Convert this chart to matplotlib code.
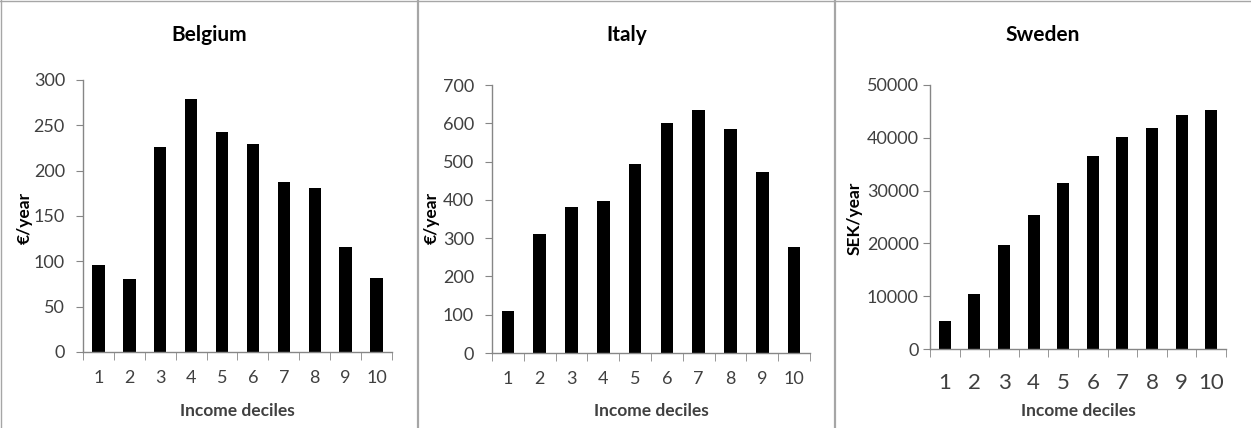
import numpy as np
import matplotlib
matplotlib.use("Agg")
import matplotlib.pyplot as plt
from matplotlib.lines import Line2D
from matplotlib.ticker import FixedLocator

# Data
deciles = ["1", "2", "3", "4", "5", "6", "7", "8", "9", "10"]
belgium = [96, 80, 226, 279, 243, 229, 188, 181, 116, 82]
italy = [110, 312, 381, 396, 493, 602, 634, 586, 472, 278]
sweden = [5300, 10400, 19700, 25300, 31400, 36600, 40200, 41900, 44300, 45200]

plt.rcParams['font.family'] = ['Lato', 'DejaVu Sans']

W, H = 1251, 428
fig = plt.figure(figsize=(W / 100, H / 100), dpi=100)

axis_grey = "#868686"
text_grey = "#404040"

# (values, title, ylabel, ymax, ystep, axes box in px [left, right, top, bottom], panel span px, xtick size, xpad, ypad, ylabel x)
panels = [
    (belgium, "Belgium", "€/year", 300, 50, [83, 392, 80, 352], (0, 418), 13, 13, 8, 25),
    (italy, "Italy", "€/year", 700, 100, [492, 810, 85, 353], (418, 835), 13, 13, 8, 432),
    (sweden, "Sweden", "SEK/year", 50000, 10000, [930, 1226, 85, 349], (835, 1251), 16, 17, 3, 855),
]

for vals, title, ylab, ymax, ystep, box, span, xfs, xpad, ypad, ylab_x in panels:
    l, r, t, b = box
    ax = fig.add_axes([l / W, 1 - b / H, (r - l) / W, (b - t) / H])
    x = np.arange(1, len(deciles) + 1)
    ax.bar(x, vals, width=0.4, color="black")
    ax.set_xlim(0.5, len(deciles) + 0.5)
    ax.set_ylim(0, ymax)
    ax.set_yticks(np.arange(0, ymax + 1, ystep))
    ax.set_xticks(x)
    ax.set_xticklabels(deciles)
    ax.xaxis.set_minor_locator(FixedLocator(np.arange(0.5, len(deciles) + 1, 1)))
    ax.tick_params(axis='x', which='major', length=0, pad=xpad, labelsize=xfs, labelcolor=text_grey)
    ax.tick_params(axis='x', which='minor', length=6, color=axis_grey, direction='out')
    ax.tick_params(axis='y', length=5, color=axis_grey, pad=ypad, labelsize=13, labelcolor=text_grey)
    for side in ("top", "right"):
        ax.spines[side].set_visible(False)
    for side in ("left", "bottom"):
        ax.spines[side].set_color(axis_grey)
        ax.spines[side].set_linewidth(1)

    # titles centred on the panel, axis labels placed like the original
    fig.text((span[0] + span[1]) / 2 / W, 1 - 35 / H, title, ha="center", va="center",
             fontsize=15, fontweight="bold", color="black")
    fig.text((l + r) / 2 / W, 1 - 411 / H, "Income deciles", ha="center", va="center",
             fontsize=12.5, fontweight="bold", color=text_grey)
    fig.text(ylab_x / W, 1 - 218 / H, ylab, ha="center", va="center", rotation=90,
             fontsize=12.5, fontweight="bold", color="black")

# panel frame lines
frame = "#a6a6a6"
fig.add_artist(Line2D([418.5 / W, 418.5 / W], [0, 1], color=frame, lw=1.6))
fig.add_artist(Line2D([835 / W, 835 / W], [0, 1], color=frame, lw=1.6))
fig.add_artist(Line2D([0, 1], [1 - 0.5 / H, 1 - 0.5 / H], color=frame, lw=1))
fig.add_artist(Line2D([0.5 / W, 0.5 / W], [0, 1], color=frame, lw=1))

fig.savefig("out.png", dpi=100)
